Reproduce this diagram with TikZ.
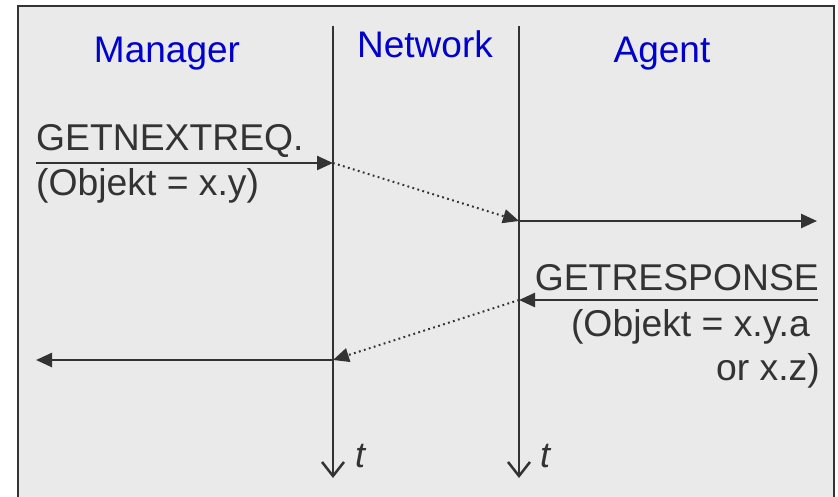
\documentclass[tikz,border=0pt]{standalone}
\usepackage{fontspec}
\setmainfont{Liberation Sans}
\usetikzlibrary{arrows.meta}
\definecolor{bgc}{HTML}{EAEAEA}
\definecolor{ink}{HTML}{333333}
\definecolor{hdrc}{HTML}{0000CC}
\begin{document}
\begin{tikzpicture}[x=1pt,y=-1pt,
  lbl/.style={inner sep=0pt, text=ink, font=\fontsize{37.3}{40}\selectfont},
  hdr/.style={inner sep=0pt, text=hdrc, font=\fontsize{37}{40}\selectfont},
  tlbl/.style={inner sep=0pt, text=ink, font=\fontsize{36}{40}\selectfont\itshape},
  msg/.style={draw=ink, line width=2.5pt, -{Triangle[length=16pt,width=14pt]}},
  net/.style={draw=ink, line width=2pt, dash pattern=on 1.8pt off 3.4pt, -{Triangle[length=16pt,width=14pt]}},
  life/.style={draw=ink, line width=2.5pt, -{Straight Barb[length=14pt,width=22pt,line width=2.5pt]}},
]
\useasboundingbox (0,0) rectangle (838,496);
\fill[white] (0,0) rectangle (838,496);
\fill[bgc] (18,6) rectangle (834,510);
\draw[ink, line width=2.5pt] (18,510) -- (18,6) -- (834,6) -- (834,510);

% lifelines
\coordinate (mtop) at (333,26);
\coordinate (mbot) at (333,478);
\coordinate (atop) at (519,26);
\coordinate (abot) at (519,478);
\draw[life] (mtop) -- (mbot);
\draw[life] (atop) -- (abot);

% headers
\node[hdr, anchor=base] (manager) at (167,62) {Manager};
\node[hdr, anchor=base] (network) at (425,57) {Network};
\node[hdr, anchor=base] (agent) at (662,62) {Agent};

% message points
\coordinate (reqS) at (36,163);
\coordinate (reqM) at (333,163);
\coordinate (reqA) at (519,221);
\coordinate (reqE) at (817,221);
\coordinate (resS) at (818,300);
\coordinate (resA) at (519,300);
\coordinate (resM) at (333,360);
\coordinate (resE) at (36,360);

\draw[msg] (reqS) -- (reqM);
\draw[net] (reqM) -- (reqA);
\draw[msg] (reqA) -- (reqE);
\draw[msg] (resS) -- (resA);
\draw[net] (resA) -- (resM);
\draw[msg] (resM) -- (resE);

% labels
\node[lbl, anchor=base west] (req1) at (36,150) {GETNEXTREQ.};
\node[lbl, anchor=base west] (req2) at (36,195) {(Objekt = x.y)};
\node[lbl, anchor=base east] (res1) at (819,290) {GETRESPONSE};
\node[lbl, anchor=base east] (res2) at (810,336) {(Objekt = x.y.a};
\node[lbl, anchor=base east] (res3) at (820,380) {or x.z)};

\node[tlbl, anchor=base west] (t1) at (355,467) {t};
\node[tlbl, anchor=base west] (t2) at (540,467) {t};
\end{tikzpicture}
\end{document}
